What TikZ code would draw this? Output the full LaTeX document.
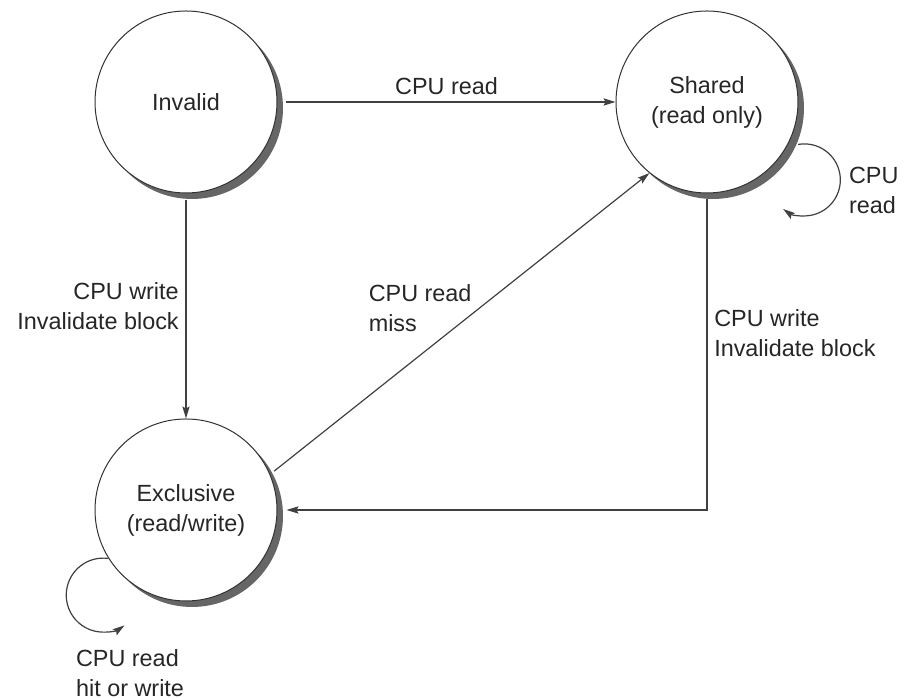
\documentclass[tikz,border=0pt]{standalone}
\usepackage{fontspec}
\setmainfont{Liberation Sans}
\usetikzlibrary{arrows.meta,shadows}

\begin{document}
\begin{tikzpicture}[
    x=0.5pt, y=0.5pt,
    every node/.style={font=\fontsize{11.7}{15}\selectfont, text=black!85},
    state/.style={circle, draw=black!80, line width=0.5pt, fill=white,
      minimum size=91pt, inner sep=0pt, align=center,
      drop shadow={shadow xshift=3pt, shadow yshift=-3pt, fill=black!60, opacity=1}},
    lbl/.style={align=left},
    arr/.style={draw=black!75, line width=0.6pt,
      -{Stealth[length=6pt,width=3.6pt,inset=1pt]}}
    %   arr/.style={->, >=latex}
  ]
  \useasboundingbox (0,0) rectangle (907,699);

  % states
  \node[state] (inv) at (186,597) {Invalid};
  \node[state] (shr) at (707,597) {Shared\\(read only)};
  \node[state] (exc) at (186,189) {Exclusive\\(read/write)};

  % transitions
  \draw[arr, shorten <=4pt] (inv) -- node[above] (rdlbl) {CPU read} (shr);
  \draw[arr, shorten <=3.5pt] (inv) -- node[left, align=right] (wrlbl)
    {CPU write\\Invalidate block} (exc);
  \draw[arr, shorten <=2.5pt] (exc.23) -- node[pos=0.55, left, lbl] (misslbl)
    {CPU read\\miss} (shr.231);
  \draw[arr, shorten <=3pt, shorten >=4.5pt] (shr.south) |- node[pos=0.22, right, lbl] (invlbl)
    {CPU write\\Invalidate block} (exc.east);

  % self loops
  \draw[arr] ([shift={(-25:9)}]shr.-25) arc[start angle=100, end angle=-126, radius=18pt];
  \node[lbl, anchor=west] (shrloop) at (842,509) {CPU\\read};
  \draw[arr] (exc.212) arc[start angle=82, end angle=305, radius=18.5pt];
  \node[lbl, anchor=west] (excloop) at (69,26) {CPU read\\hit or write};
\end{tikzpicture}
\end{document}
